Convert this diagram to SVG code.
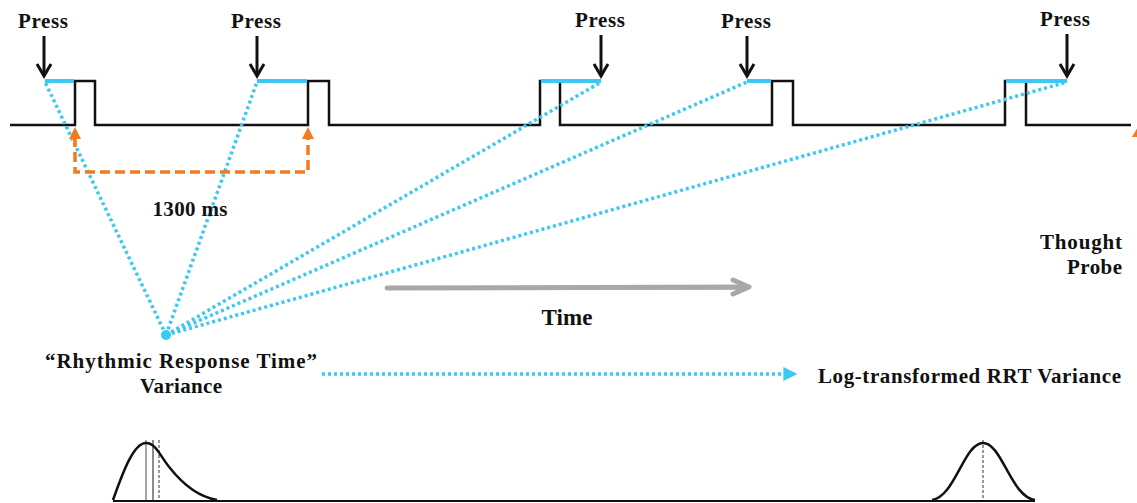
<svg xmlns="http://www.w3.org/2000/svg" width="1137" height="503" viewBox="0 0 1137 503">
<defs>
<style>
.lbl{font-family:"Liberation Serif","Times New Roman",serif;font-weight:bold;font-size:21px;fill:#111}
.sig{fill:none;stroke:#111;stroke-width:2.5}
.hold{stroke:#3BC9F4;stroke-width:4;fill:none}
.dot{stroke:#3BC9F4;stroke-width:3.5;stroke-dasharray:3 3;fill:none}
.press{stroke:#111;stroke-width:3;fill:none}
.org{stroke:#F57A1F;stroke-width:3.5;stroke-dasharray:10 5;fill:none}
.curve{fill:none;stroke:#111;stroke-width:2.5}
</style>
<marker id="blueHead" viewBox="0 0 10 10" refX="9" refY="5" markerWidth="4" markerHeight="4" orient="auto" markerUnits="strokeWidth">
<path d="M0,0 L10,5 L0,10 Z" fill="#3BC9F4"/>
</marker>
<filter id="sh" x="-5%" y="-100%" width="110%" height="300%"><feGaussianBlur stdDeviation="1"/></filter>
</defs>

<g id="signal">
<path class="sig" d="M10,125 H75 V81 H95 V125 H308 V81 H329 V125 H540 V81 H560 V125 H772 V81 H793 V125 H1005 V81 H1026 V125 H1131"/>
</g>

<g id="holds">
<line class="hold" x1="45" y1="81" x2="74" y2="81"/>
<line class="hold" x1="257" y1="81" x2="307" y2="81"/>
<line class="hold" x1="541" y1="81" x2="601" y2="81"/>
<line class="hold" x1="747" y1="81" x2="771" y2="81"/>
<line class="hold" x1="1006" y1="81" x2="1067" y2="81"/>
</g>

<g id="connectors">
<line class="dot" x1="166" y1="335" x2="45" y2="82"/>
<line class="dot" x1="166" y1="335" x2="257" y2="82"/>
<line class="dot" x1="166" y1="335" x2="601" y2="82"/>
<line class="dot" x1="166" y1="335" x2="747" y2="82"/>
<line class="dot" x1="166" y1="335" x2="1067" y2="82"/>
<line class="dot" x1="322" y1="374" x2="796" y2="374" marker-end="url(#blueHead)"/>
<path class="org" d="M75,137 V160 V172 H308 V137"/>
<path d="M69,139 L75,127 L81,139 Z" fill="#F57A1F"/>
<path d="M302,139 L308,127 L314,139 Z" fill="#F57A1F"/>
<path d="M1132,137 L1139,125 L1146,137 Z" fill="#F57A1F"/>
</g>

<g id="focus">
<circle cx="166" cy="335" r="5" fill="#3BC9F4"/>
</g>

<g id="press-1">
<text class="lbl" x="43" y="28" text-anchor="middle" textLength="50">Press</text>
<line class="press" x1="44" y1="36" x2="44" y2="76"/>
<path class="press" d="M37,64 L44,76 L51,64"/>
</g>
<g id="press-2">
<text class="lbl" x="256" y="28" text-anchor="middle" textLength="50">Press</text>
<line class="press" x1="257" y1="36" x2="257" y2="76"/>
<path class="press" d="M250,64 L257,76 L264,64"/>
</g>
<g id="press-3">
<text class="lbl" x="600" y="27" text-anchor="middle" textLength="50">Press</text>
<line class="press" x1="601" y1="35" x2="601" y2="76"/>
<path class="press" d="M594,64 L601,76 L608,64"/>
</g>
<g id="press-4">
<text class="lbl" x="746" y="28" text-anchor="middle" textLength="50">Press</text>
<line class="press" x1="747" y1="36" x2="747" y2="76"/>
<path class="press" d="M740,64 L747,76 L754,64"/>
</g>
<g id="press-5">
<text class="lbl" x="1065" y="26" text-anchor="middle" textLength="50">Press</text>
<line class="press" x1="1067" y1="34" x2="1067" y2="76"/>
<path class="press" d="M1060,64 L1067,76 L1074,64"/>
</g>

<g id="interval-label">
<text class="lbl" x="190" y="216" text-anchor="middle" textLength="75">1300 ms</text>
</g>

<g id="thought-probe">
<text class="lbl" x="1122" y="249" text-anchor="end" textLength="82">Thought</text>
<text class="lbl" x="1122" y="274" text-anchor="end" textLength="55">Probe</text>
</g>

<g id="time-axis">
<g filter="url(#sh)" opacity="0.5">
<path d="M387,289 L745,288" stroke="#777" stroke-width="5" fill="none"/>
</g>
<path d="M387,288 L745,287" stroke="#A8A8A8" stroke-width="5" stroke-linecap="round" fill="none"/>
<path d="M733,280 L749,287 L733,294" stroke="#A8A8A8" stroke-width="5" stroke-linecap="round" stroke-linejoin="round" fill="none"/>
<text class="lbl" x="567" y="325" text-anchor="middle" textLength="51" style="font-size:23px">Time</text>
</g>

<g id="rrt-variance">
<text class="lbl" x="181" y="368" text-anchor="middle" textLength="272">“Rhythmic Response Time”</text>
<text class="lbl" x="181" y="393" text-anchor="middle" textLength="82">Variance</text>
</g>

<g id="log-variance">
<text class="lbl" x="818" y="383" textLength="303">Log-transformed RRT Variance</text>
</g>

<g id="distributions">
<line x1="113" y1="501" x2="1035" y2="501" stroke="#111" stroke-width="2"/>
<line x1="146" y1="440" x2="146" y2="500" stroke="#888" stroke-width="1.5"/>
<line x1="153" y1="440" x2="153" y2="500" stroke="#666" stroke-width="1.5"/>
<line x1="159" y1="440" x2="159" y2="500" stroke="#777" stroke-width="1.5" stroke-dasharray="3 2"/>
<path class="curve" d="M113,500 C122,475 133,443 146,443 C156,443 160,456 170,468 C185,487 200,497 217,500"/>
<line x1="983" y1="440" x2="983" y2="500" stroke="#777" stroke-width="1.5" stroke-dasharray="3 2"/>
<path class="curve" d="M932,500 C955,497 964,443 983,443 C1002,443 1011,497 1035,500"/>
</g>
</svg>
